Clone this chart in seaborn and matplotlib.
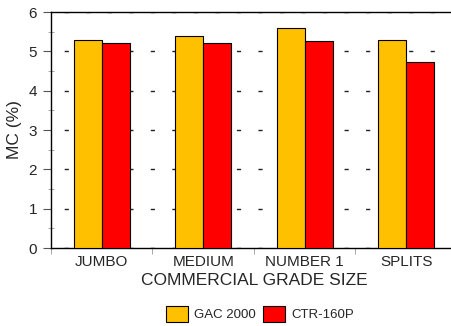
import pandas as pd
import seaborn as sns
import matplotlib.pyplot as plt
from matplotlib.ticker import MultipleLocator, FixedLocator
from matplotlib.patches import Patch

# values
grades = ['JUMBO', 'MEDIUM', 'NUMBER 1', 'SPLITS']
gac_2000 = [5.3, 5.4, 5.6, 5.3]
ctr_160p = [5.2, 5.21, 5.27, 4.72]
series_names = ['GAC 2000', 'CTR-160P']
series_colors = ['#FFC000', '#FF0000']

df = pd.DataFrame({
    'Grade': grades * 2,
    'MC': gac_2000 + ctr_160p,
    'Series': [series_names[0]] * len(grades) + [series_names[1]] * len(grades),
})

sns.set_style('white')
plt.rcParams['font.family'] = ['Liberation Sans', 'DejaVu Sans']

fig = plt.figure(figsize=(4.52, 3.26), dpi=100)
ax = fig.add_axes([51 / 452, 1 - 248 / 326, 406 / 452, 236 / 326])

sns.barplot(data=df, x='Grade', y='MC', hue='Series', palette=series_colors,
            saturation=1, width=0.55, edgecolor='black', linewidth=0.8, ax=ax,
            legend=False, zorder=3)

ax.set_xlim(-0.5, 3.5)
ax.set_ylim(0, 6)
ax.yaxis.set_major_locator(MultipleLocator(1))
ax.yaxis.set_minor_locator(MultipleLocator(0.5))
ax.xaxis.set_minor_locator(FixedLocator([-0.5, 0.5, 1.5, 2.5, 3.5]))

ax.grid(axis='y', which='major', color='#222222', linestyle=(6, (3, 12.5)),
        linewidth=1, zorder=0)
ax.set_axisbelow(True)

ax.tick_params(axis='y', which='major', length=6, color='#555555',
               direction='out', labelsize=11, pad=4, left=True)
ax.tick_params(axis='y', which='minor', length=5, color='#999999',
               direction='inout', left=True)
ax.tick_params(axis='x', which='major', length=0, labelsize=11, pad=5)
ax.tick_params(axis='x', which='minor', length=4, color='#999999',
               direction='out', bottom=True)

for side in ['left', 'bottom', 'top']:
    ax.spines[side].set_visible(True)
    ax.spines[side].set_color('black')
    ax.spines[side].set_linewidth(1.0)
ax.spines['right'].set_visible(False)

ax.set_xlabel('COMMERCIAL GRADE SIZE', fontsize=12.5, labelpad=3)
ax.set_ylabel('MC (%)', fontsize=12.5, labelpad=5)

handles = [Patch(facecolor=c, edgecolor='black', linewidth=0.8) for c in series_colors]
fig.legend(handles, series_names, loc='center', bbox_to_anchor=(260 / 452, 1 - 314 / 326),
           ncol=2, frameon=False, fontsize=9.5, handlelength=1.65, handleheight=1.6,
           handletextpad=0.5, columnspacing=0.5)

fig.savefig('out.png', dpi=100)
